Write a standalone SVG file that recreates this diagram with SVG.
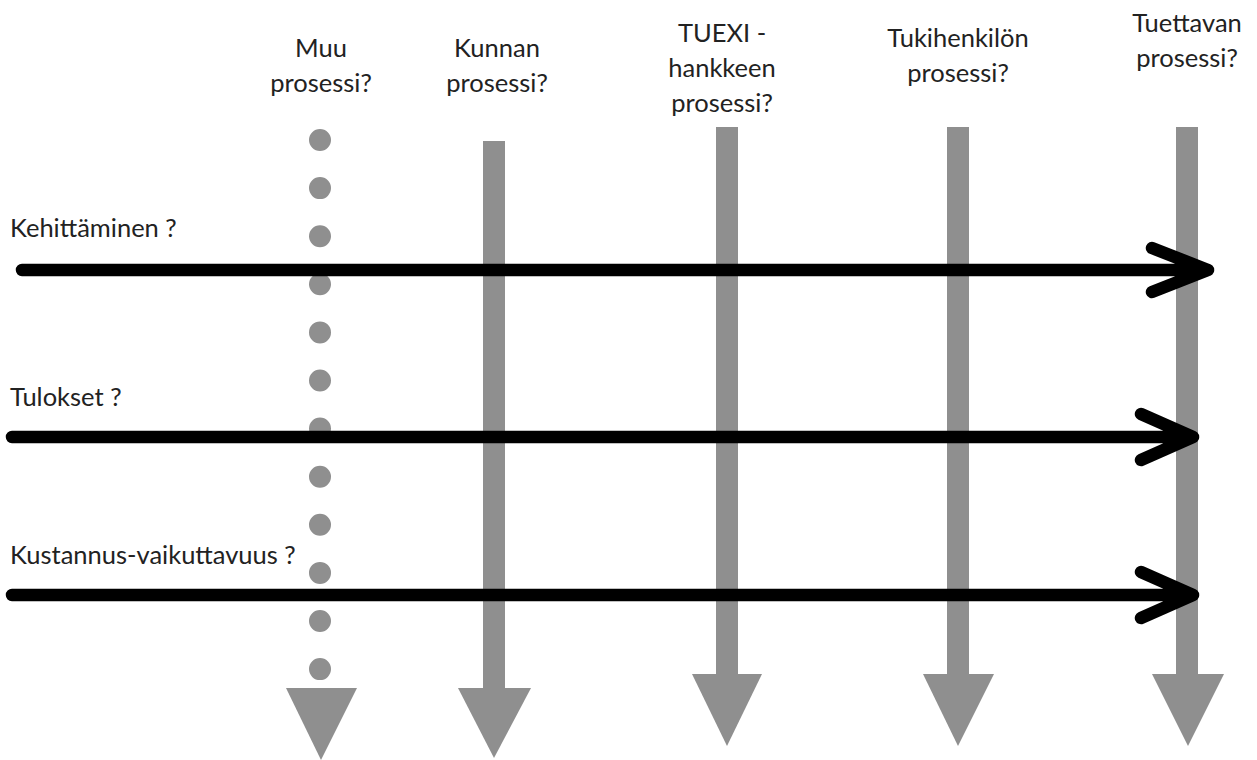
<svg xmlns="http://www.w3.org/2000/svg" width="1257" height="760" viewBox="0 0 1257 760">
<style>
text{font-family:Lato,"Open Sans","Liberation Sans",sans-serif;font-size:25.5px;fill:#222}
.c{text-anchor:middle}
.bar{fill:#8f8f8f}
.h{stroke:#000;stroke-width:12.5;fill:none;stroke-linecap:round;stroke-linejoin:round}
</style>
<rect width="1257" height="760" fill="#fff"/>
<g id="muu">
<text class="c" x="321" y="57">Muu</text>
<text class="c" x="321" y="92">prosessi?</text>
<line x1="320" y1="140" x2="320" y2="670" stroke="#8f8f8f" stroke-width="22" stroke-linecap="round" stroke-dasharray="0 48.1"/>
<polygon class="bar" points="286,688 357,688 321,760"/>
</g>
<g id="kunnan">
<text class="c" x="497" y="57">Kunnan</text>
<text class="c" x="497" y="92">prosessi?</text>
<rect class="bar" x="483" y="141" width="22" height="550"/>
<polygon class="bar" points="458,688 531,688 494,758"/>
</g>
<g id="tuexi">
<text class="c" x="722" y="42">TUEXI -</text>
<text class="c" x="722" y="77">hankkeen</text>
<text class="c" x="722" y="112">prosessi?</text>
<rect class="bar" x="716" y="127" width="22" height="550"/>
<polygon class="bar" points="692,674 762,674 727,746"/>
</g>
<g id="tukihenkilon">
<text class="c" x="958" y="47">Tukihenkilön</text>
<text class="c" x="958" y="82">prosessi?</text>
<rect class="bar" x="947" y="127" width="22" height="550"/>
<polygon class="bar" points="923,674 994,674 958,746"/>
</g>
<g id="tuettavan">
<text class="c" x="1187" y="32">Tuettavan</text>
<text class="c" x="1187" y="67">prosessi?</text>
<rect class="bar" x="1176" y="127" width="22" height="550"/>
<polygon class="bar" points="1152,674 1224,674 1188,746"/>
</g>
<g id="labels">
<text x="10" y="237">Kehittäminen ?</text>
<text x="10" y="406">Tulokset ?</text>
<text x="10" y="564">Kustannus-vaikuttavuus ?</text>
</g>
<g id="connectors">
<path class="h" d="M22,270 H1208 M1152,248 L1208,270 L1152,292"/>
<path class="h" d="M12,437 H1193 M1141,414 L1193,437 L1141,460"/>
<path class="h" d="M12,595 H1193 M1141,572 L1193,595 L1141,618"/>
</g>
</svg>
